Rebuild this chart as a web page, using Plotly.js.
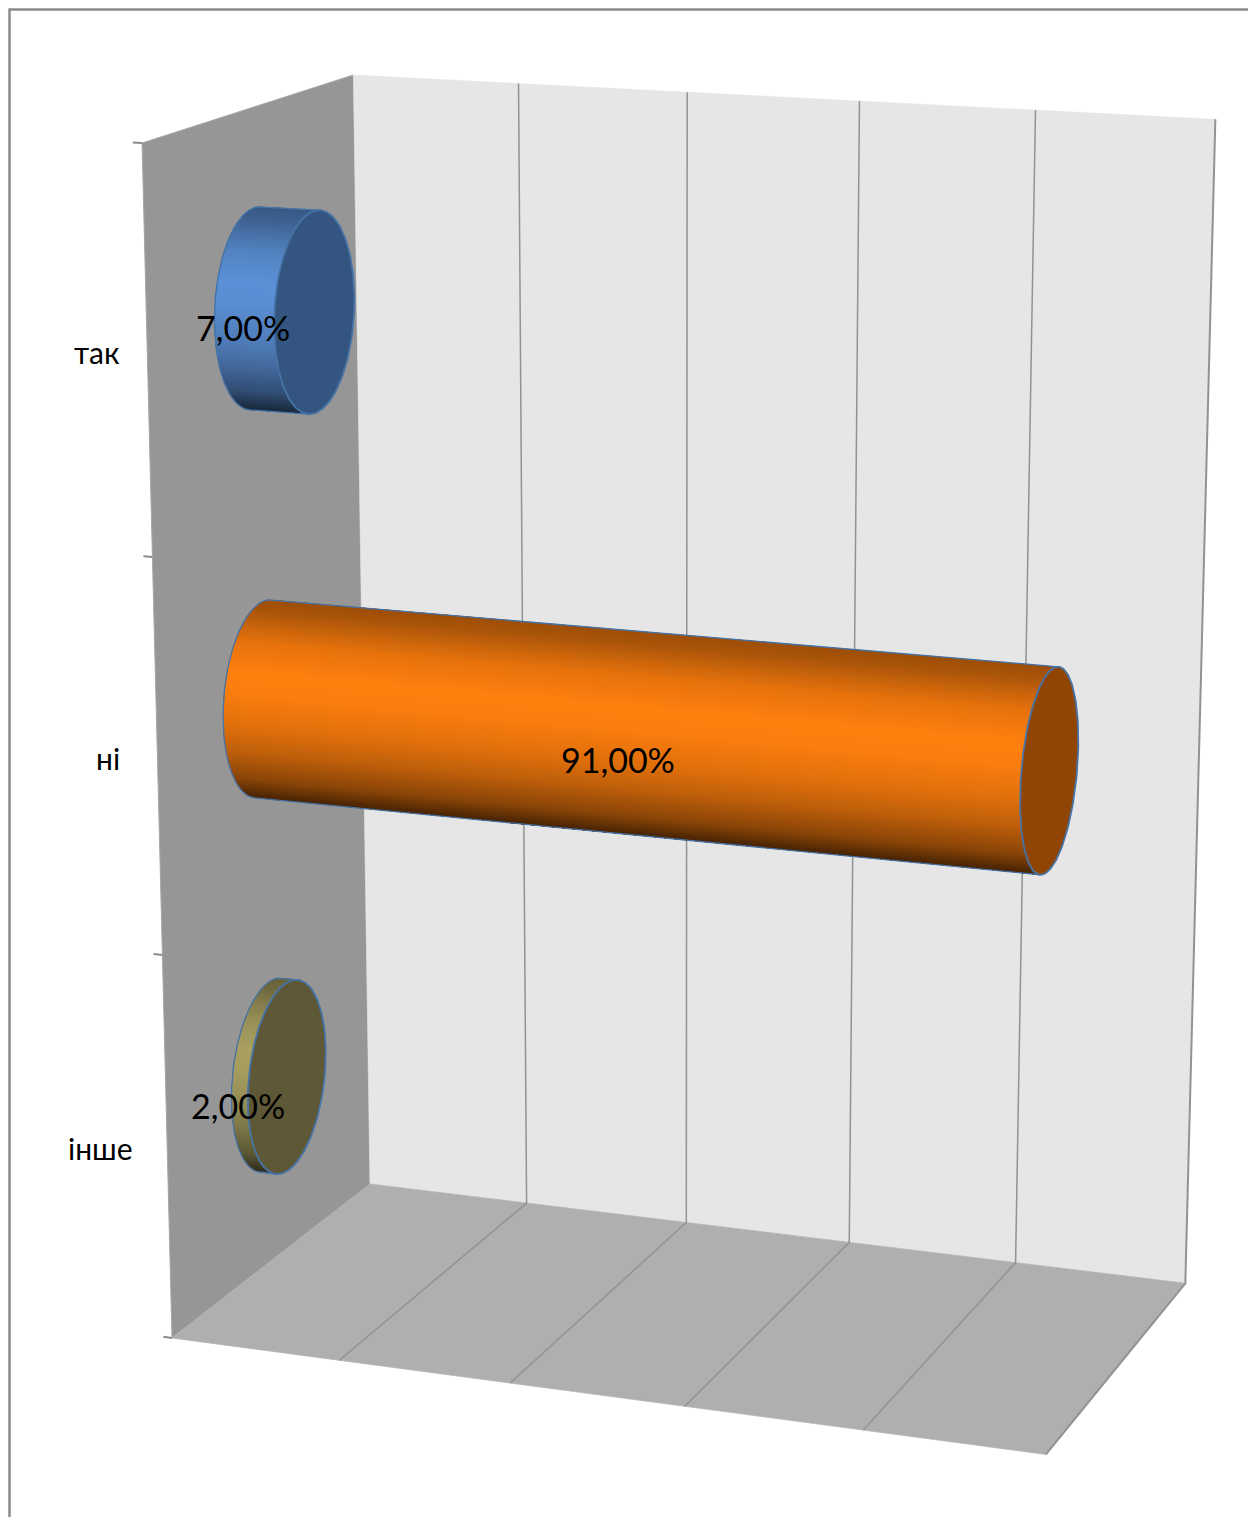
<!DOCTYPE html>
<html>
<head>
<meta charset="utf-8">
<script src="https://cdn.plot.ly/plotly-3.0.1.min.js"></script>
<style>html,body{margin:0;padding:0;background:#fff;overflow:hidden}</style>
</head>
<body>
<div id="chart" style="width:1248px;height:1517px"></div>
<script>
// Chart values
const categories = ['так', 'ні', 'інше'];
const shares = [7, 91, 2];
const valueTicks = [0, 20, 40, 60, 80, 100];
const axisMax = 100;

// Series colours: lit side and end cap
const sideColors = [[91, 144, 214], [255, 127, 14], [168, 159, 96]];
const capColors = ['#335580', '#914505', '#5e5836'];
const outlineColor = '#4673a6';

// Perspective box: maps (value fraction, depth, height) to page pixels
const camX = [818.3, 227.97, -38.0, 172];
const camY = [39.05, -58.1, -1203.1, 1338];
const camW = [-0.0532, 0.081, -0.05667, 1];
function project(u, d, h) {
  const w = camW[0] * u + camW[1] * d + camW[2] * h + camW[3];
  return [
    (camX[0] * u + camX[1] * d + camX[2] * h + camX[3]) / w,
    (camY[0] * u + camY[1] * d + camY[2] * h + camY[3]) / w
  ];
}

const traces = [];
function poly(points, fill, line, width) {
  const closed = fill ? points.concat([points[0]]) : points;
  traces.push({
    type: 'scatter', mode: 'lines', hoverinfo: 'skip',
    x: closed.map(p => p[0]), y: closed.map(p => p[1]),
    fill: fill ? 'toself' : 'none', fillcolor: fill || undefined,
    line: {color: line || fill, width: width === undefined ? 0 : width}
  });
}

// Walls and floor
poly([project(0,0,0), project(0,1,0), project(0,1,1), project(0,0,1)], '#969696', '#a6a6a6', 1);
poly([project(0,1,0), project(1,1,0), project(1,1,1), project(0,1,1)], '#e6e6e6', '#e6e6e6', 0.5);
poly([project(0,0,0), project(1,0,0), project(1,1,0), project(0,1,0)], '#afafaf', '#b4b4b4', 0.8);

// Value gridlines across the back wall and floor
valueTicks.slice(1).forEach(t => {
  const u = t / axisMax;
  poly([project(u,0,0), project(u,1,0), project(u,1,1)], null, '#929292', t === axisMax ? 2 : 1.5);
});

// Category tick marks on the front edge of the side wall
categories.concat(['']).forEach((_, i) => {
  const h = i / categories.length;
  poly([project(-0.0105,0,h), project(0,0,h)], null, '#8c8c8c', 2);
});

// Brightness of a cylinder side by its position across the visible surface
const shadeStops = [[0,0.62],[0.05,0.66],[0.14,0.80],[0.22,0.91],[0.36,1],[0.47,0.985],[0.64,0.875],[0.76,0.75],[0.9,0.54],[0.98,0.32],[1,0.28]];
function shade(s) {
  for (let i = 1; i < shadeStops.length; i++) {
    if (s <= shadeStops[i][0]) {
      const a = shadeStops[i-1], b = shadeStops[i];
      return a[1] + (b[1]-a[1]) * (s-a[0]) / (b[0]-a[0]);
    }
  }
  return shadeStops[shadeStops.length-1][1];
}

// Cylinders, one per category, running from zero to the category's share
const radiusDepth = 0.196, radiusHeight = 0.084, depthCentre = 0.5;
const segments = 180;
shares.forEach((share, i) => {
  const u = share / axisMax;
  const hc = 1 - (i + 0.5) / categories.length;
  const rim = (uu, t) => project(uu, depthCentre + radiusDepth * Math.cos(t), hc + radiusHeight * Math.sin(t));
  const area = q => {
    let a = 0;
    q.forEach((p, k) => { const n = q[(k+1) % q.length]; a += p[0]*n[1] - n[0]*p[1]; });
    return a;
  };
  const step = 2 * Math.PI / segments;
  const faceQuad = t => [rim(0,t), rim(u,t), rim(u,t+step), rim(0,t+step)];
  const front = Math.sign(area(faceQuad(Math.PI - step/2)));
  // Walk from the top of the circle down through the side facing the viewer
  const visible = [];
  for (let k = 0; k < segments; k++) {
    const t = k * step;
    if (Math.sign(area(faceQuad(t))) === front) visible.push(t);
  }
  const first = visible[0], last = visible[visible.length-1] + step;
  // Shade by screen position halfway along the cylinder
  const midY = t => rim(u / 2, t)[1];
  const yTop = midY(first), yBottom = midY(last);
  // Each band reaches down to the lower silhouette and the next band paints over it,
  // so neighbouring bands leave no seam between them
  visible.forEach((t, k) => {
    const s = Math.min(1, Math.max(0, (midY(t + step/2) - yTop) / (yBottom - yTop)));
    const b = shade(s);
    const c = sideColors[i].map(v => Math.round(v * b));
    const tail = visible.slice(k).concat([last]);
    poly(tail.map(a => rim(0, a)).concat(tail.slice().reverse().map(a => rim(u, a))), 'rgb(' + c.join(',') + ')');
  });
  // Outline of the visible side
  const arc = visible.map(t => rim(0, t));
  arc.push(rim(0, last));
  poly([rim(u, first)].concat(arc).concat([rim(u, last)]), null, outlineColor, 1.3);
  // End cap
  const cap = [];
  for (let k = 0; k < segments; k++) cap.push(rim(u, k * step));
  poly(cap, capColors[i], outlineColor, 1.8);
});

// Text labels
const fontFamily = 'Lato, "Noto Sans", sans-serif';
const categoryFont = {family: fontFamily, size: 30, color: '#000'};
const valueFont = {family: fontFamily, size: 34, color: '#000'};
const annotations = [];
const categoryLabelShift = [-50, -49, -67];
categories.forEach((name, i) => {
  const h = 1 - (i + 0.5) / categories.length;
  const p = project(0, 0, h);
  annotations.push({x: p[0] + categoryLabelShift[i], y: p[1], text: name, showarrow: false,
    xref: 'x', yref: 'y', xanchor: 'center', yanchor: 'middle', font: categoryFont});
});
shares.forEach((share, i) => {
  const h = 1 - (i + 0.5) / categories.length;
  const p = project(share / axisMax * 0.51, 0.297, h);
  annotations.push({x: p[0], y: p[1], text: share.toFixed(2).replace('.', ',') + '%', showarrow: false,
    xref: 'x', yref: 'y', xanchor: 'center', yanchor: 'middle', font: valueFont});
});

const layout = {
  width: 1248, height: 1517,
  margin: {l: 0, r: 0, t: 0, b: 0},
  paper_bgcolor: '#fff', plot_bgcolor: '#fff',
  showlegend: false,
  xaxis: {range: [0, 1248], visible: false, fixedrange: true},
  yaxis: {range: [1517, 0], visible: false, fixedrange: true},
  annotations: annotations,
  shapes: [{type: 'path', path: 'M 9.5 1517 L 9.5 9.5 L 1248 9.5', xref: 'x', yref: 'y',
    line: {color: '#8a8a8a', width: 2.5}}]
};
Plotly.newPlot('chart', traces, layout, {displayModeBar: false, staticPlot: true});
</script>
</body>
</html>
